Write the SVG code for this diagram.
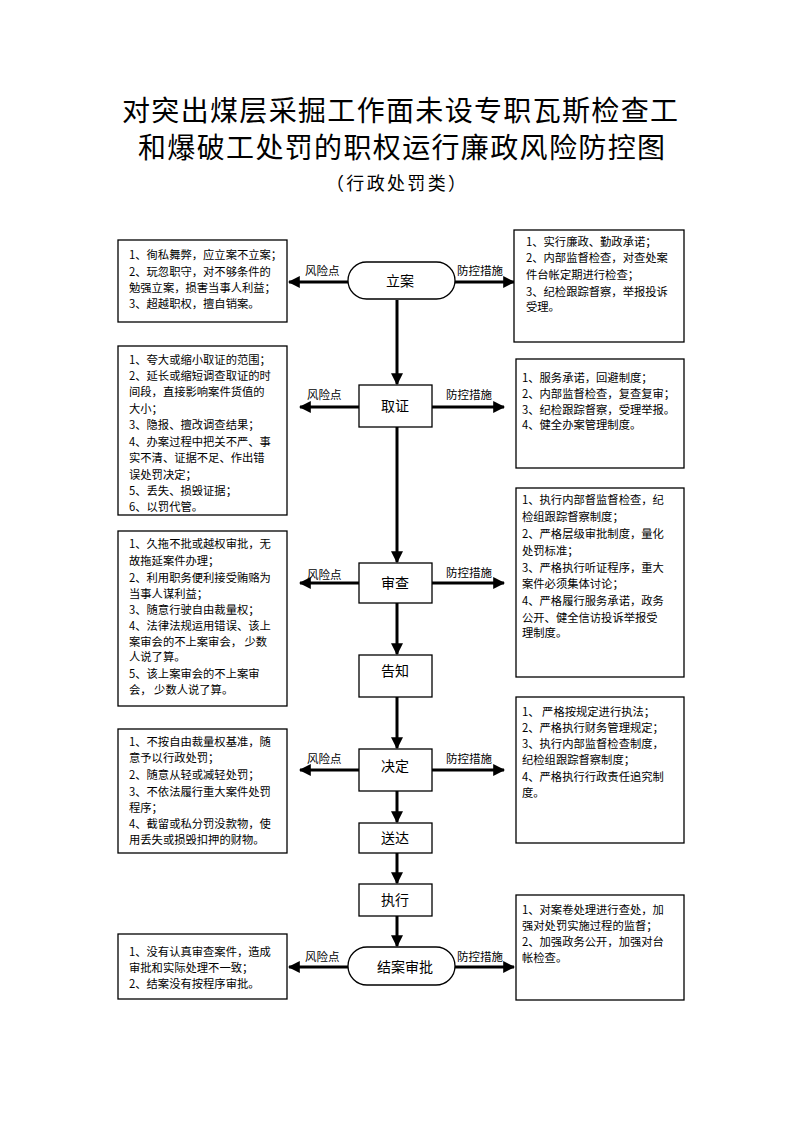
<svg xmlns="http://www.w3.org/2000/svg" width="794" height="1123" viewBox="0 0 794 1123">
<defs>
<marker id="ah" viewBox="0 0 10 10" refX="9" refY="5" markerWidth="4" markerHeight="4" orient="auto" markerUnits="strokeWidth">
<path d="M0,0 L10,5 L0,10 Z" fill="#000"/>
</marker>
<style>
text{font-family:"Noto Sans CJK SC","Liberation Sans",sans-serif;fill:#000}
.title{font-size:28px}
.sub{font-size:18px}
.box{fill:#fff;stroke:#000;stroke-width:1.3}
.t{font-size:11.3px}
.node{font-size:14px;text-anchor:middle}
.lab{font-size:11.5px}
.c{stroke:#000;stroke-width:3;fill:none;marker-end:url(#ah)}
</style>
</defs>
<rect width="794" height="1123" fill="#fff"/>
<text class="title" x="122" y="121" textLength="556" lengthAdjust="spacing">对突出煤层采掘工作面未设专职瓦斯检查工</text>
<text class="title" x="138" y="158" textLength="527" lengthAdjust="spacing">和爆破工处罚的职权运行廉政风险防控图</text>
<text class="sub" x="326" y="190" textLength="140" lengthAdjust="spacing">（行政处罚类）</text>

<g id="connectors">
<path class="c" d="M397,300 V384"/>
<path class="c" d="M397,427 V562"/>
<path class="c" d="M397,603 V654"/>
<path class="c" d="M397,697 V748"/>
<path class="c" d="M397,791 V822"/>
<path class="c" d="M397,853 V883"/>
<path class="c" d="M397,916 V946"/>
<path class="c" d="M348,282 H289"/>
<path class="c" d="M455,282 H514"/>
<path class="c" d="M359,407 H300"/>
<path class="c" d="M432,407 H504"/>
<path class="c" d="M359,583 H300"/>
<path class="c" d="M432,583 H504"/>
<path class="c" d="M359,770 H300"/>
<path class="c" d="M432,770 H504"/>
<path class="c" d="M348,967 H289"/>
<path class="c" d="M455,967 H514"/>
<text class="lab" x="305" y="275">风险点</text>
<text class="lab" x="457" y="275">防控措施</text>
<text class="lab" x="307" y="399">风险点</text>
<text class="lab" x="446" y="399">防控措施</text>
<text class="lab" x="307" y="579">风险点</text>
<text class="lab" x="446" y="577">防控措施</text>
<text class="lab" x="307" y="763">风险点</text>
<text class="lab" x="446" y="763">防控措施</text>
<text class="lab" x="305" y="961">风险点</text>
<text class="lab" x="457" y="961">防控措施</text>
</g>

<g id="n-lian">
<rect class="box" x="348" y="262" width="107" height="37" rx="18.5"/>
<text class="node" x="400" y="286">立案</text>
</g>
<g id="n-quzheng">
<rect class="box" x="359" y="385" width="73" height="42"/>
<text class="node" x="395" y="411">取证</text>
</g>
<g id="n-shencha">
<rect class="box" x="359" y="563" width="73" height="40"/>
<text class="node" x="395" y="588">审查</text>
</g>
<g id="n-gaozhi">
<rect class="box" x="359" y="655" width="73" height="42"/>
<text class="node" x="395" y="676">告知</text>
</g>
<g id="n-jueding">
<rect class="box" x="359" y="749" width="73" height="42"/>
<text class="node" x="395" y="771">决定</text>
</g>
<g id="n-songda">
<rect class="box" x="359" y="823" width="73" height="30"/>
<text class="node" x="395" y="843">送达</text>
</g>
<g id="n-zhixing">
<rect class="box" x="359" y="884" width="73" height="32"/>
<text class="node" x="395" y="905">执行</text>
</g>
<g id="n-jiean">
<rect class="box" x="348" y="947" width="107" height="38" rx="19"/>
<text class="node" x="405" y="972">结案审批</text>
</g>

<g id="risk-1">
<rect class="box" x="118" y="240" width="169" height="82"/>
<text class="t" x="129"><tspan x="129" y="259">1、徇私舞弊，应立案不立案；</tspan><tspan x="129" y="276">2、玩忽职守，对不够条件的</tspan><tspan x="129" y="292">勉强立案，损害当事人利益；</tspan><tspan x="129" y="308">3、超越职权，擅自销案。</tspan></text>
</g>
<g id="ctrl-1">
<rect class="box" x="514" y="230" width="170" height="112"/>
<text class="t"><tspan x="526" y="246">1、实行廉政、勤政承诺；</tspan><tspan x="526" y="262">2、内部监督检查，对查处案</tspan><tspan x="526" y="279">件台帐定期进行检查；</tspan><tspan x="526" y="296">3、纪检跟踪督察，举报投诉</tspan><tspan x="526" y="311">受理。</tspan></text>
</g>
<g id="risk-2">
<rect class="box" x="118" y="346" width="169" height="169"/>
<text class="t"><tspan x="129" y="364">1、夸大或缩小取证的范围；</tspan><tspan x="129" y="380">2、延长或缩短调查取证的时</tspan><tspan x="129" y="396">间段，直接影响案件货值的</tspan><tspan x="129" y="413">大小；</tspan><tspan x="129" y="429">3、隐报、擅改调查结果；</tspan><tspan x="129" y="446">4、办案过程中把关不严、事</tspan><tspan x="129" y="462">实不清、证据不足、作出错</tspan><tspan x="129" y="479">误处罚决定；</tspan><tspan x="129" y="495">5、丢失、损毁证据；</tspan><tspan x="129" y="511">6、以罚代管。</tspan></text>
</g>
<g id="ctrl-2">
<rect class="box" x="516" y="359" width="168" height="109"/>
<text class="t"><tspan x="522" y="382">1、服务承诺，回避制度；</tspan><tspan x="522" y="398">2、内部监督检查，复查复审；</tspan><tspan x="522" y="414">3、纪检跟踪督察，受理举报。</tspan><tspan x="522" y="429">4、健全办案管理制度。</tspan></text>
</g>
<g id="risk-3">
<rect class="box" x="118" y="531" width="169" height="175"/>
<text class="t"><tspan x="129" y="548">1、久拖不批或越权审批，无</tspan><tspan x="129" y="565">故拖延案件办理；</tspan><tspan x="129" y="582">2、利用职务便利接受贿赂为</tspan><tspan x="129" y="598">当事人谋利益；</tspan><tspan x="129" y="614">3、随意行驶自由裁量权；</tspan><tspan x="129" y="630">4、法律法规运用错误、该上</tspan><tspan x="129" y="646">案审会的不上案审会， 少数</tspan><tspan x="129" y="661">人说了算。</tspan><tspan x="129" y="678">5、该上案审会的不上案审</tspan><tspan x="129" y="694">会， 少数人说了算。</tspan></text>
</g>
<g id="ctrl-3">
<rect class="box" x="516" y="488" width="168" height="189"/>
<text class="t"><tspan x="522" y="504">1、执行内部督监督检查，纪</tspan><tspan x="522" y="521">检组跟踪督察制度；</tspan><tspan x="522" y="538">2、严格层级审批制度，量化</tspan><tspan x="522" y="555">处罚标准；</tspan><tspan x="522" y="572">3、严格执行听证程序，重大</tspan><tspan x="522" y="588">案件必须集体讨论；</tspan><tspan x="522" y="605">4、严格履行服务承诺，政务</tspan><tspan x="522" y="622">公开、健全信访投诉举报受</tspan><tspan x="522" y="637">理制度。</tspan></text>
</g>
<g id="risk-4">
<rect class="box" x="118" y="729" width="169" height="124"/>
<text class="t"><tspan x="129" y="746">1、不按自由裁量权基准，随</tspan><tspan x="129" y="762">意予以行政处罚；</tspan><tspan x="129" y="779">2、随意从轻或减轻处罚；</tspan><tspan x="129" y="796">3、不依法履行重大案件处罚</tspan><tspan x="129" y="812">程序；</tspan><tspan x="129" y="828">4、截留或私分罚没款物，使</tspan><tspan x="129" y="844">用丢失或损毁扣押的财物。</tspan></text>
</g>
<g id="ctrl-4">
<rect class="box" x="516" y="697" width="168" height="146"/>
<text class="t"><tspan x="522" y="716">1、  严格按规定进行执法；</tspan><tspan x="522" y="732">2、严格执行财务管理规定；</tspan><tspan x="522" y="748">3、执行内部监督检查制度，</tspan><tspan x="522" y="764">纪检组跟踪督察制度；</tspan><tspan x="522" y="781">4、严格执行行政责任追究制</tspan><tspan x="522" y="797">度。</tspan></text>
</g>
<g id="risk-5">
<rect class="box" x="118" y="934" width="169" height="65"/>
<text class="t"><tspan x="129" y="956">1、没有认真审查案件，造成</tspan><tspan x="129" y="972">审批和实际处理不一致；</tspan><tspan x="129" y="988">2、结案没有按程序审批。</tspan></text>
</g>
<g id="ctrl-5">
<rect class="box" x="516" y="895" width="168" height="105"/>
<text class="t"><tspan x="522" y="914">1、对案卷处理进行查处，加</tspan><tspan x="522" y="930">强对处罚实施过程的监督；</tspan><tspan x="522" y="946">2、加强政务公开，加强对台</tspan><tspan x="522" y="962">帐检查。</tspan></text>
</g>
</svg>
